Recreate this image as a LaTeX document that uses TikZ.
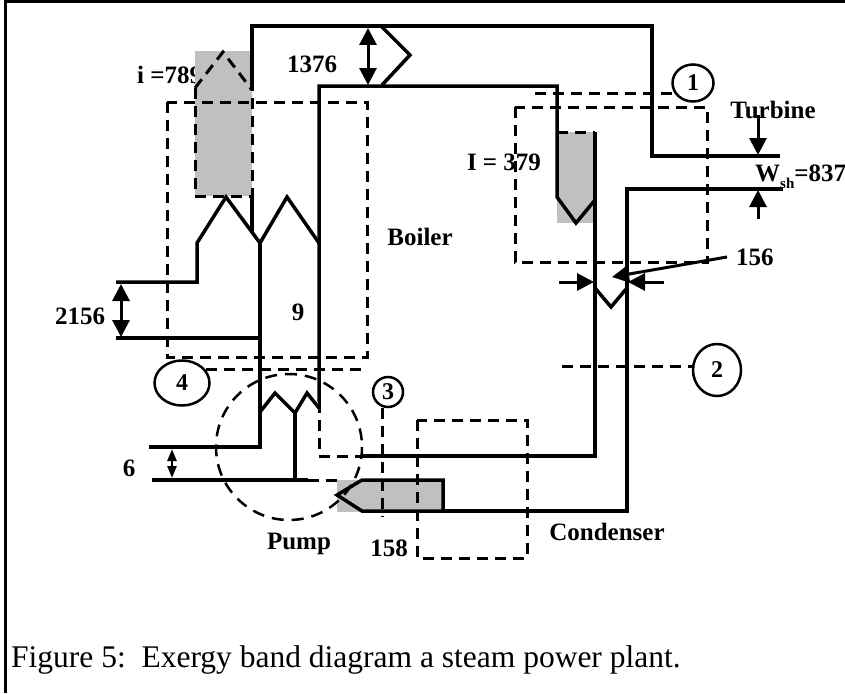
\documentclass[tikz,border=0pt]{standalone}
\usepackage{fontspec}
\setmainfont{Liberation Serif}
\usetikzlibrary{arrows.meta,shapes.geometric}
\definecolor{bandgray}{RGB}{192,192,192}
\begin{document}
\begin{tikzpicture}[x=1pt,y=-1pt,
  band/.style={line width=3.5pt, line join=miter},
  dsh/.style={line width=3pt, dash pattern=on 11pt off 7pt},
  lbl/.style={font=\fontsize{25}{28}\selectfont\bfseries, inner sep=0pt},
  stat/.style={draw, ellipse, line width=2.5pt, inner sep=0pt, font=\fontsize{24}{26}\selectfont\bfseries},
  hd/.style={line width=3pt, -{Triangle[length=17pt,width=17pt]}},
  dbl/.style={line width=3pt, {Triangle[length=17pt,width=17pt]}-{Triangle[length=17pt,width=17pt]}},
  sdbl/.style={line width=2.5pt, {Triangle[length=12pt,width=9pt]}-{Triangle[length=12pt,width=9pt]}}
]
\useasboundingbox (0,0) rectangle (845,693);
% frame
\draw[line width=3pt] (5,693) -- (5,2) -- (845,2);

% label partly hidden by the grey block
\node[lbl, anchor=west] (iLbl) at (137,75) {i =789};

% grey blocks
\fill[bandgray] (195,51) rectangle (252,196);
\fill[bandgray] (557,132) rectangle (594,223);
\fill[bandgray] (337,480) rectangle (443,512);

% ---- boiler / outer band ----
\draw[band] (252,90) -- (252,26) -- (652,26) -- (652,156) -- (780,156);
\draw[band] (252,196) -- (252,232);
\draw[dsh] (195,88) -- (223,52) -- (252,90);
\draw[dsh] (195,88) -- (195,196) -- (252,196) -- (252,90);
\draw[band] (116,282) -- (197,282) -- (197,243) -- (226,197) -- (260,243) -- (287,197) -- (319,243);
\draw[band] (116,338) -- (260,338);
\draw[band] (260,243) -- (260,447) -- (149,447);

% ---- inner band ----
\draw[band] (319,402) -- (319,86) -- (557,86) -- (557,197) -- (576,223) -- (595,200);
\draw[dsh] (557,132) -- (595,132);
\draw[band] (595,132) -- (595,456) -- (362,456);
\draw[dsh] (319,402) -- (319,456) -- (362,456);
\draw[band] (595,288) -- (611,307) -- (627,288);

% ---- turbine exit / condenser ----
\draw[band] (783,189) -- (627,189) -- (627,511) -- (443,511);
\draw[band] (443,511) -- (443,480) -- (362,480) -- (337,495) -- (362,511) -- (443,511);

% ---- pump ----
\draw[band] (260,412) -- (275,393) -- (295,413) -- (307,393) -- (319,408);
\draw[band] (295,413) -- (295,480);
\draw[band] (152,480) -- (308,480);
\draw[dsh] (308,480) -- (337,480);
\draw[line width=2.5pt, dash pattern=on 12pt off 8pt] (289,447) circle [radius=73];

% chevron on the 1376 band
\draw[band] (382,27) -- (410,55) -- (382,85);

% ---- dashed control volumes ----
\draw[dsh] (167,102) rectangle (367,357);
\draw[dsh] (515,107) rectangle (707,262);
\draw[dsh] (417,420) rectangle (527,558);

% ---- state points ----
\node[stat, minimum width=41pt, minimum height=37pt] (s1) at (693,83) {1};
\node[stat, minimum width=48pt, minimum height=52pt] (s2) at (717,370) {2};
\node[stat, circle, minimum size=30pt] (s3) at (388,392) {3};
\node[stat, minimum width=55pt, minimum height=45pt] (s4) at (182,383) {4};
\coordinate (s1e) at (675,93);
\coordinate (s1w) at (535,93);
\coordinate (s2e) at (694,366);
\coordinate (s2w) at (562,366);
\coordinate (s3a) at (382,408);
\coordinate (s3b) at (382,517);
\coordinate (s4a) at (206,369);
\coordinate (s4b) at (363,369);
\draw[dsh] (s1w) -- (s1e);
\draw[dsh] (s2w) -- (s2e);
\draw[dsh] (s3a) -- (s3b);
\draw[dsh] (s4a) -- (s4b);

% ---- dimension arrows ----
\coordinate (a1t) at (368,28); \coordinate (a1b) at (368,85);
\draw[dbl] (a1t) -- (a1b);
\coordinate (tA) at (758,115); \coordinate (tB) at (758,155);
\draw[hd] (tA) -- (tB);
\coordinate (wA) at (758,219); \coordinate (wB) at (758,190);
\draw[hd] (wA) -- (wB);
\coordinate (f1) at (121,284); \coordinate (f2) at (121,337);
\draw[dbl] (f1) -- (f2);
\coordinate (p1) at (172,449); \coordinate (p2) at (172,478);
\draw[sdbl] (p1) -- (p2);
\coordinate (c1) at (559,282); \coordinate (c2) at (594,282);
\draw[hd] (c1) -- (c2);
\coordinate (c3) at (664,282); \coordinate (c4) at (628,282);
\draw[hd] (c3) -- (c4);
\coordinate (c5) at (727,257); \coordinate (c6) at (612,277);
\draw[hd] (c5) -- (c6);

% ---- labels ----
\node[lbl] (l1376) at (312,64) {1376};
\node[lbl] (lBoiler) at (420,237) {Boiler};
\node[lbl] (lI) at (504,162) {I = 379};
\node[lbl] (lTurb) at (773,110) {Turbine};
\node[lbl, anchor=west] (lW) at (755,177) {W\raisebox{-0.28em}{\fontsize{15}{15}\selectfont sh}=837};
\node[lbl, anchor=west] (l156) at (736,257) {156};
\node[lbl] (l2156) at (80,316) {2156};
\node[lbl] (l9) at (298,312) {9};
\node[lbl] (l6) at (129,468) {6};
\node[lbl, anchor=base] (lPump) at (299,549) {Pump};
\node[lbl] (l158) at (389,548) {158};
\node[lbl] (lCond) at (607,532) {Condenser};
\node[font=\fontsize{31.5}{34}\selectfont, inner sep=0pt, anchor=base west] (cap) at (11,667) {Figure 5:\ \ Exergy band diagram a steam power plant.};
\end{tikzpicture}
\end{document}
